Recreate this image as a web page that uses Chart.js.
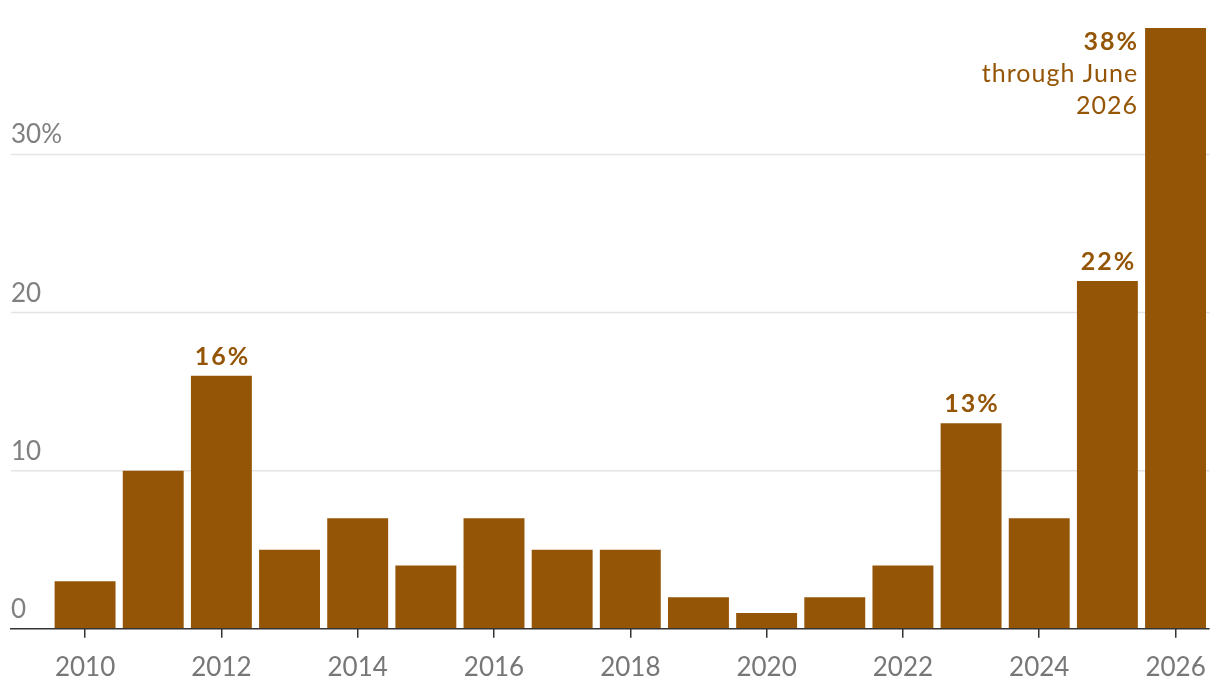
<!DOCTYPE html>
<html>
<head>
<meta charset="utf-8">
<script src="https://cdn.jsdelivr.net/npm/chart.js@4.4.1/dist/chart.umd.min.js"></script>
<style>
  html, body { margin: 0; padding: 0; background: #fff; }
  #wrap { width: 1220px; height: 682px; }
</style>
</head>
<body>
<div id="wrap"><canvas id="chart"></canvas></div>
<script>
const years = ['2010', '2011', '2012', '2013', '2014', '2015', '2016', '2017', '2018',
  '2019', '2020', '2021', '2022', '2023', '2024', '2025', '2026'];
const shares = [3, 10, 16, 5, 7, 4, 7, 5, 5, 2, 1, 2, 4, 13, 7, 22, 38];
const xTickLabels = ['2010', '2012', '2014', '2016', '2018', '2020', '2022', '2024', '2026'];
const yTickValues = [0, 10, 20, 30];
const yTickLabels = ['0', '10', '20', '30%'];
const labelledYears = ['2012', '2023', '2025'];
const lastNote = ['through June', '2026'];

const BROWN = '#955506';
const FONT = 'Lato, "Open Sans", sans-serif';

// gridlines, y labels and the base line run further left than the bars
const axisDecor = {
  id: 'axisDecor',
  beforeDatasetsDraw(chart) {
    const { ctx, chartArea, scales } = chart;
    const left = 11;
    ctx.save();
    ctx.font = '26px ' + FONT;
    ctx.textAlign = 'left';
    ctx.textBaseline = 'alphabetic';
    yTickValues.forEach((v, i) => {
      const y = scales.y.getPixelForValue(v);
      if (v > 0) {
        ctx.strokeStyle = '#e4e4e4';
        ctx.lineWidth = 1.5;
        ctx.beginPath();
        ctx.moveTo(left, y);
        ctx.lineTo(chartArea.right, y);
        ctx.stroke();
      }
      ctx.fillStyle = '#808080';
      ctx.fillText(yTickLabels[i], left, y - 11);
    });
    ctx.restore();
  },
  afterDatasetsDraw(chart) {
    const { ctx, chartArea, scales } = chart;
    const y0 = scales.y.getPixelForValue(0);
    ctx.save();
    ctx.strokeStyle = '#333';
    ctx.lineWidth = 1.5;
    ctx.beginPath();
    ctx.moveTo(10, y0);
    ctx.lineTo(chartArea.right, y0);
    ctx.stroke();

    // value labels (letterSpacing also pads the last glyph, so nudge back)
    const meta = chart.getDatasetMeta(0);
    ctx.fillStyle = BROWN;
    ctx.font = 'bold 25px ' + FONT;
    ctx.letterSpacing = '2px';
    ctx.textAlign = 'center';
    labelledYears.forEach(yr => {
      const i = years.indexOf(yr);
      const bar = meta.data[i];
      ctx.fillText(shares[i] + '%', bar.x + 1, bar.y - 11);
    });

    // note on the last bar
    const li = years.length - 1;
    const last = meta.data[li];
    const tx = last.x - last.width / 2 - 8;
    ctx.textAlign = 'right';
    ctx.fillText(shares[li] + '%', tx + 2, last.y + 22);
    ctx.font = '25px ' + FONT;
    ctx.letterSpacing = '1px';
    lastNote.forEach((t, k) => ctx.fillText(t, tx + 1, last.y + 54 + k * 32));
    ctx.restore();
  }
};

new Chart(document.getElementById('chart'), {
  type: 'bar',
  data: {
    labels: years,
    datasets: [{
      data: shares,
      backgroundColor: BROWN,
      barPercentage: 0.894,
      categoryPercentage: 1,
    }],
  },
  options: {
    responsive: true,
    maintainAspectRatio: false,
    animation: false,
    layout: { padding: { left: 51, right: 10, top: 28, bottom: -15 } },
    plugins: {
      legend: { display: false },
      tooltip: { enabled: false },
    },
    scales: {
      x: {
        border: { display: false },
        grid: {
          offset: false,
          drawOnChartArea: false,
          drawTicks: true,
          tickLength: 9,
          lineWidth: 1.5,
          color: (c) => xTickLabels.includes(years[c.index]) ? '#333' : 'rgba(0,0,0,0)',
        },
        ticks: {
          autoSkip: false,
          maxRotation: 0,
          padding: 14,
          color: '#777',
          font: { family: FONT, size: 26 },
          callback: (v, i) => xTickLabels.includes(years[i]) ? years[i] : '',
        },
      },
      y: {
        display: false,
        min: 0,
        max: 38,
      },
    },
  },
  plugins: [axisDecor],
});
</script>
</body>
</html>
